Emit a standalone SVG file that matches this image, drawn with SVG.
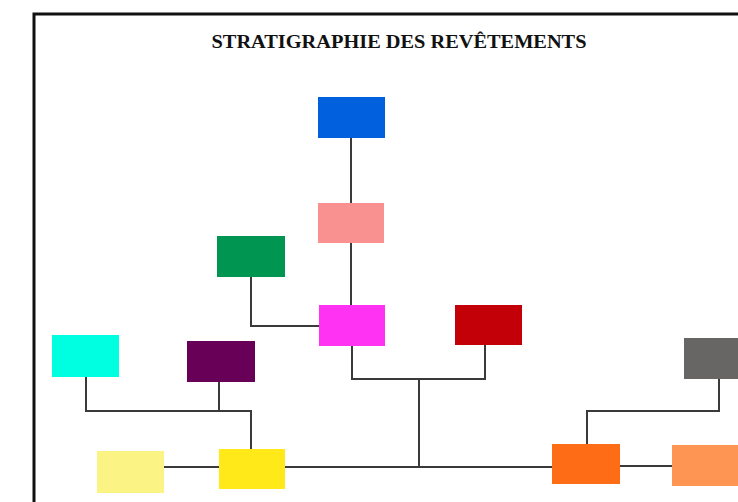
<svg xmlns="http://www.w3.org/2000/svg" width="738" height="502" viewBox="0 0 738 502">
<style>
.frame{fill:none;stroke:#111;stroke-width:3}
.title{font-family:"Liberation Serif","Times New Roman",serif;font-weight:bold;font-size:19px;fill:#111}
.conn{fill:none;stroke:#3a3a3a;stroke-width:2;stroke-linejoin:miter}
</style>
<rect width="738" height="502" fill="#fff"/>
<rect class="frame" x="34" y="14" width="720" height="500"/>
<text class="title" x="399" y="48" text-anchor="middle" textLength="375" lengthAdjust="spacingAndGlyphs">STRATIGRAPHIE DES REVÊTEMENTS</text>
<g id="connectors">
<path class="conn" d="M351 138V203"/>
<path class="conn" d="M351 243V305"/>
<path class="conn" d="M251 277V326H319"/>
<path class="conn" d="M352 346V379H485V345"/>
<path class="conn" d="M419 379V467"/>
<path class="conn" d="M285 467H552"/>
<path class="conn" d="M86 377V411H251V449"/>
<path class="conn" d="M219 382V411"/>
<path class="conn" d="M164 467H219"/>
<path class="conn" d="M587 444V411H719V379"/>
<path class="conn" d="M620 466H672"/>
</g>
<g id="n-blue"><rect x="318" y="97" width="67" height="41" fill="#0060dd"/></g>
<g id="n-salmon"><rect x="318" y="203" width="66" height="40" fill="#fa9191"/></g>
<g id="n-green"><rect x="217" y="236" width="68" height="41" fill="#009551"/></g>
<g id="n-magenta"><rect x="319" y="305" width="66" height="41" fill="#ff32f3"/></g>
<g id="n-red"><rect x="455" y="305" width="67" height="40" fill="#c30007"/></g>
<g id="n-cyan"><rect x="52" y="335" width="67" height="42" fill="#00ffe0"/></g>
<g id="n-purple"><rect x="187" y="341" width="68" height="41" fill="#690058"/></g>
<g id="n-lightyellow"><rect x="97" y="451" width="67" height="42" fill="#fbf485"/></g>
<g id="n-yellow"><rect x="219" y="449" width="66" height="40" fill="#ffe918"/></g>
<g id="n-gray"><rect x="684" y="338" width="67" height="41" fill="#686565"/></g>
<g id="n-orange"><rect x="552" y="444" width="68" height="40" fill="#ff6c16"/></g>
<g id="n-lightorange"><rect x="672" y="445" width="67" height="41" fill="#ff9553"/></g>
</svg>
